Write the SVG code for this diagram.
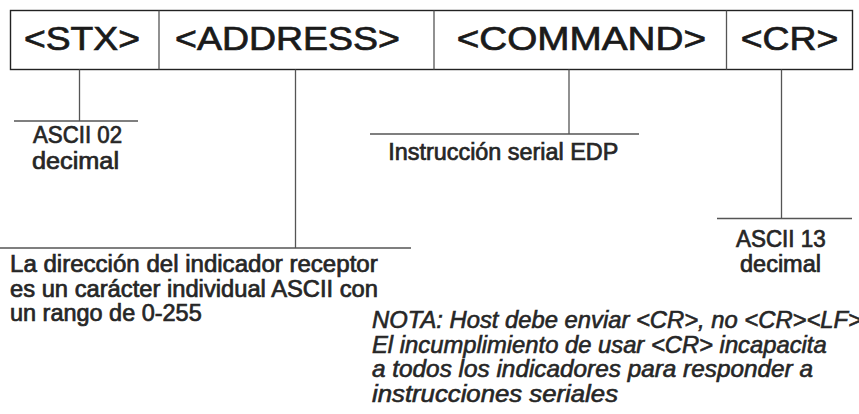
<svg xmlns="http://www.w3.org/2000/svg" width="859" height="414" viewBox="0 0 859 414">
<style>
.frame{fill:#fff;stroke:#222;stroke-width:1.4}
.div{stroke:#555;stroke-width:1.3}
.conn line{stroke:#555;stroke-width:1.3;fill:none}
.hdr{font-family:"Liberation Sans",Arial,sans-serif;font-size:33px;fill:#1a1a1a;stroke:#1a1a1a;stroke-width:0.7}
.lbl{font-family:"Liberation Sans",Arial,sans-serif;font-size:23px;fill:#262626;stroke:#262626;stroke-width:0.7}
.note{font-family:"Liberation Sans",Arial,sans-serif;font-size:23px;font-style:italic;fill:#262626;stroke:#262626;stroke-width:0.6}
</style>
<rect width="859" height="414" fill="#fff"/>
<rect class="frame" x="10.5" y="10.5" width="842" height="59"/>
<g id="stx">
<text class="hdr" x="24" y="49.5" textLength="116" lengthAdjust="spacingAndGlyphs">&lt;STX&gt;</text>
</g>
<line class="div" x1="159" y1="10.5" x2="159" y2="69.5"/>
<g id="address">
<text class="hdr" x="175" y="49.5" textLength="225" lengthAdjust="spacingAndGlyphs">&lt;ADDRESS&gt;</text>
</g>
<line class="div" x1="434" y1="10.5" x2="434" y2="69.5"/>
<g id="command">
<text class="hdr" x="456.7" y="49.5" textLength="249.3" lengthAdjust="spacingAndGlyphs">&lt;COMMAND&gt;</text>
</g>
<line class="div" x1="726.5" y1="10.5" x2="726.5" y2="69.5"/>
<g id="cr">
<text class="hdr" x="740.7" y="49.5" textLength="97.6" lengthAdjust="spacingAndGlyphs">&lt;CR&gt;</text>
</g>
<g id="connectors" class="conn">
<line x1="79.5" y1="69.5" x2="79.5" y2="121"/>
<line x1="14" y1="121" x2="138" y2="121"/>
<line x1="295.5" y1="69.5" x2="295.5" y2="248"/>
<line x1="0" y1="248" x2="411" y2="248"/>
<line x1="569" y1="69.5" x2="569" y2="134"/>
<line x1="370" y1="134" x2="639" y2="134"/>
<line x1="781.5" y1="69.5" x2="781.5" y2="218.5"/>
<line x1="717" y1="218.5" x2="852" y2="218.5"/>
</g>
<g id="label-stx">
<text class="lbl" x="33" y="143.3" textLength="89" lengthAdjust="spacingAndGlyphs">ASCII 02</text>
<text class="lbl" x="32" y="168.5" textLength="87" lengthAdjust="spacingAndGlyphs">decimal</text>
</g>
<g id="label-command">
<text class="lbl" x="388.3" y="160" textLength="230" lengthAdjust="spacingAndGlyphs">Instrucción serial EDP</text>
</g>
<g id="label-cr">
<text class="lbl" x="736" y="247.3" textLength="89.7" lengthAdjust="spacingAndGlyphs">ASCII 13</text>
<text class="lbl" x="740" y="271.7" textLength="81" lengthAdjust="spacingAndGlyphs">decimal</text>
</g>
<g id="label-address">
<text class="lbl" x="10" y="271.7" textLength="367.7" lengthAdjust="spacingAndGlyphs">La dirección del indicador receptor</text>
<text class="lbl" x="10" y="296.5" textLength="368" lengthAdjust="spacingAndGlyphs">es un carácter individual ASCII con</text>
<text class="lbl" x="10" y="320.5" textLength="191.7" lengthAdjust="spacingAndGlyphs">un rango de 0-255</text>
</g>
<g id="note">
<text class="note" x="372" y="328" textLength="490" lengthAdjust="spacingAndGlyphs">NOTA: Host debe enviar &lt;CR&gt;, no &lt;CR&gt;&lt;LF&gt;</text>
<text class="note" x="372" y="352.5" textLength="454.7" lengthAdjust="spacingAndGlyphs">El incumplimiento de usar &lt;CR&gt; incapacita</text>
<text class="note" x="372" y="377" textLength="441" lengthAdjust="spacingAndGlyphs">a todos los indicadores para responder a</text>
<text class="note" x="372" y="401.5" textLength="246" lengthAdjust="spacingAndGlyphs">instrucciones seriales</text>
</g>
</svg>
